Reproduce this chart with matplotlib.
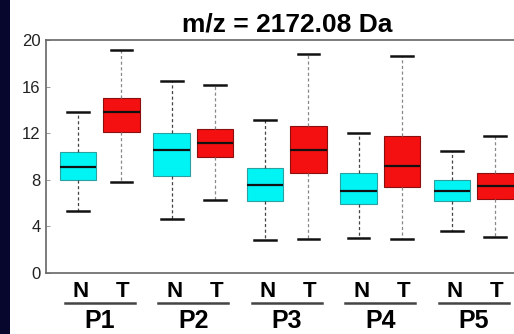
import matplotlib
matplotlib.use('Agg')
import matplotlib.pyplot as plt

plt.rcParams['font.family'] = ['Liberation Sans', 'DejaVu Sans']

# ---- values (order: P1N, P1T, P2N, P2T, ... P5T) ----
labels = ['N', 'T'] * 5
groups = ['P1', 'P2', 'P3', 'P4', 'P5']
whislo = [5.3, 7.85, 4.6, 6.3, 2.85, 2.95, 3.0, 2.95, 3.6, 3.1]
q1 = [8.0, 12.1, 8.3, 9.95, 6.2, 8.6, 5.95, 7.35, 6.15, 6.35]
med = [9.1, 13.8, 10.55, 11.15, 7.55, 10.6, 7.0, 9.2, 7.05, 7.5]
q3 = [10.4, 15.05, 12.05, 12.35, 9.0, 12.6, 8.55, 11.75, 8.0, 8.55]
whishi = [13.85, 19.1, 16.5, 16.1, 13.1, 18.8, 12.05, 18.6, 10.5, 11.8]
yticks = [0, 4, 8, 12, 16, 20]

CYAN, RED = '#00F4F4', '#F41010'

fig = plt.figure(figsize=(5.14, 3.34), dpi=100)
fig.patch.set_facecolor('white')
# dark strip on the left edge of the slide
fig.add_artist(plt.Rectangle((0, 0), 10 / 514, 1, transform=fig.transFigure,
                             facecolor='#07072e', edgecolor='none'))

ax = fig.add_axes([46 / 514, 61 / 334, 481.5 / 514, 233 / 334])

pos = []
for g in range(len(groups)):
    c = 2 * g + 1.5
    pos += [c - 0.465, c + 0.465]

stats = [dict(med=m, q1=a, q3=b, whislo=lo, whishi=hi, fliers=[])
         for m, a, b, lo, hi in zip(med, q1, q3, whislo, whishi)]
bp = ax.bxp(stats, positions=pos, widths=0.79, patch_artist=True,
            showfliers=False, capwidths=0.47, manage_ticks=False,
            medianprops=dict(color='#111', lw=1.6),
            capprops=dict(color='#111', lw=1.8))

for i, box in enumerate(bp['boxes']):
    if labels[i] == 'N':
        box.set_facecolor(CYAN); box.set_edgecolor('#2aa0a0')
    else:
        box.set_facecolor(RED); box.set_edgecolor('#8a1010')
    box.set_linewidth(0.8)
for i, w in enumerate(bp['whiskers']):
    w.set_color('#444' if labels[i // 2] == 'N' else '#888')
    w.set_linestyle((0, (2.5, 2)))
    w.set_linewidth(0.9)

ax.set_xlim(0.35, 10.65)
ax.set_ylim(0, 20)
ax.set_yticks(yticks)
ax.set_yticklabels([str(t) for t in yticks], fontsize=12, color='#222')
ax.tick_params(axis='y', direction='in', length=3, width=0.6, colors='#888',
               labelcolor='#222', pad=4)
ax.set_xticks([])
for s in ['left', 'top', 'bottom']:
    ax.spines[s].set_color('#666')
    ax.spines[s].set_linewidth(1.2)
ax.spines['right'].set_visible(False)

ax.set_title('m/z = 2172.08 Da', fontsize=19, fontweight='bold', pad=6)

# group labels under the axis
tr = ax.get_xaxis_transform()
for i, p in enumerate(pos):
    ax.text(p + (0.06 if labels[i] == 'N' else 0.03), -0.105, labels[i],
            transform=tr, ha='center', va='baseline', fontsize=16,
            fontweight='bold')
for g, name in enumerate(groups):
    c = 2 * g + 1.5
    ax.plot([c - 0.75, c + 0.75], [-0.129, -0.129], color='#444', lw=1.8,
            transform=tr, clip_on=False)
    ax.text(c, -0.257, name, transform=tr, ha='center', va='bottom',
            fontsize=18, fontweight='bold')

fig.savefig('out.png', dpi=100)
